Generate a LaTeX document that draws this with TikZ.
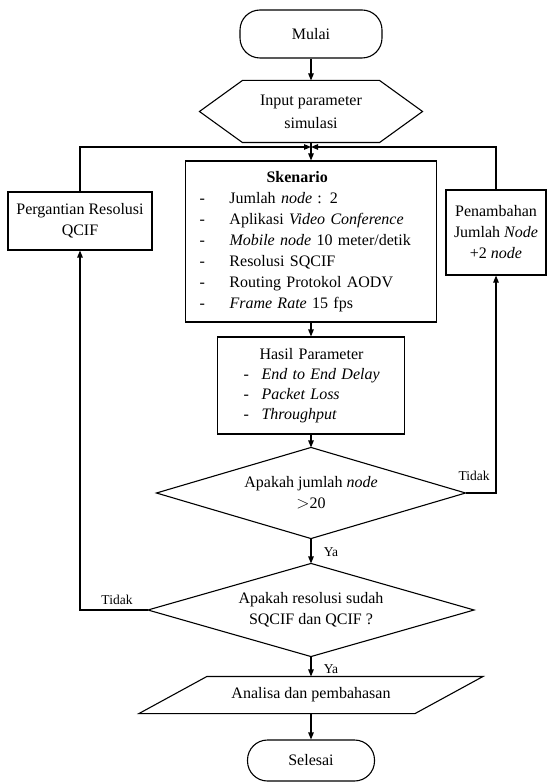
\documentclass[tikz,border=0pt]{standalone}
\usepackage{fontspec}
\setmainfont{Liberation Serif}
\usetikzlibrary{arrows.meta}
\newcommand\dashitem[3]{\hspace*{#1}\makebox[#2][l]{-}#3}
\begin{document}
\begin{tikzpicture}[x=1pt,y=-1pt,line width=1.1pt,
  font=\fontsize{16}{21}\selectfont,
  box/.style={draw,rectangle,inner sep=0pt,align=center},
  term/.style={draw,rectangle,rounded corners=20pt,inner sep=0pt},
  ghost/.style={rectangle,inner sep=0pt,align=center},
  arr/.style={-{Triangle[length=7pt,width=5.5pt]}},
  lbl/.style={inner sep=0pt,font=\fontsize{13.5}{16}\selectfont}]
\useasboundingbox (0,0) rectangle (548,783);

\node[term,minimum width=142pt,minimum height=48pt] (mulai) at (311,34) {Mulai};
\node[ghost,minimum width=222pt,minimum height=61pt] (hex) at (311,111.5) {Input parameter\\[2pt]simulasi};
\draw (hex.west) -- ([xshift=43pt]hex.north west) -- ([xshift=-43pt]hex.north east)
  -- (hex.east) -- ([xshift=-43pt]hex.south east) -- ([xshift=43pt]hex.south west) -- cycle;

\node[box,minimum width=251pt,minimum height=161pt,text width=251pt,align=left] (sken) at (311,241.5)
 {\hspace*{81pt}\textbf{Skenario}\\
  \dashitem{14pt}{30pt}{Jumlah \textit{node} : 2}\\
  \dashitem{14pt}{30pt}{Aplikasi \textit{Video Conference}}\\
  \dashitem{14pt}{30pt}{\textit{Mobile node} 10 meter/detik}\\
  \dashitem{14pt}{30pt}{Resolusi SQCIF}\\
  \dashitem{14pt}{30pt}{Routing Protokol AODV}\\
  \dashitem{14pt}{30pt}{\textit{Frame Rate} 15 fps}};

\node[box,minimum width=187pt,minimum height=97pt,text width=187pt,align=left,
  font=\fontsize{16}{20}\selectfont] (hasil) at (311,385.5)
 {\hspace*{42pt}Hasil Parameter\\
  \dashitem{26pt}{18pt}{\textit{End to End Delay}}\\
  \dashitem{26pt}{18pt}{\textit{Packet Loss}}\\
  \dashitem{26pt}{18pt}{\textit{Throughput}}};

\node[box,minimum width=144pt,minimum height=58pt] (perg) at (80,221) {Pergantian Resolusi\\QCIF};
\node[box,minimum width=100pt,minimum height=85pt] (pen) at (496,232.5) {Penambahan\\Jumlah \textit{Node}\\+2 \textit{node}};

\node[ghost,minimum width=308pt,minimum height=90pt] (d1) at (311,493) {Apakah jumlah \textit{node}\\${>}$20};
\draw (d1.north) -- (d1.east) -- (d1.south) -- (d1.west) -- cycle;
\node[ghost,minimum width=325pt,minimum height=92pt] (d2) at (311,610) {Apakah resolusi sudah\\SQCIF dan QCIF ?};
\draw (d2.north) -- (d2.east) -- (d2.south) -- (d2.west) -- cycle;

\node[ghost,minimum width=343pt,minimum height=36pt] (ana) at (311,695) {Analisa dan pembahasan};
\draw (ana.south west) -- ([xshift=68pt]ana.north west) -- (ana.north east)
  -- ([xshift=-68pt]ana.south east) -- cycle;

\node[term,minimum width=127pt,minimum height=41pt] (selesai) at (311,760.5) {Selesai};

\coordinate (m) at (311,147);

\draw[arr] (mulai.south) -- (hex.north);
\draw[arr] (hex.south) -- (sken.north);
\draw[arr] (perg.north) |- (m);
\draw[arr] (pen.north) |- (m);
\draw[arr] (sken.south) -- (hasil.north);
\draw[arr] (hasil.south) -- (d1.north);
\draw[arr] (d1.east) -| (pen.south);
\draw[arr] (d1.south) -- (d2.north);
\draw[arr] (d2.west) -| (perg.south);
\draw[arr] (d2.south) -- (ana.north);
\draw[arr] (ana.south) -- (selesai.north);

\node[lbl] (tidak1) at (474,476) {Tidak};
\node[lbl] (ya1) at (331,552) {Ya};
\node[lbl] (tidak2) at (117,600) {Tidak};
\node[lbl] (ya2) at (331,669) {Ya};
\end{tikzpicture}
\end{document}
